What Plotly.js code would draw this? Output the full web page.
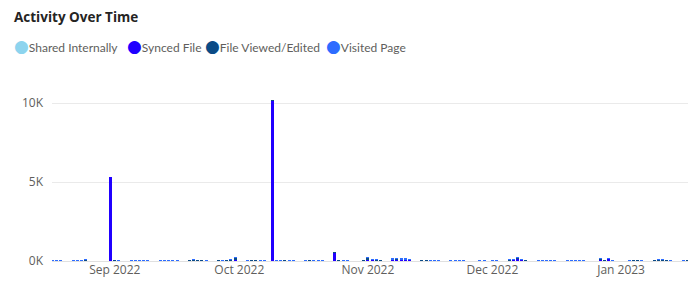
<!DOCTYPE html>
<html>
<head>
<meta charset="utf-8">
<script src="https://cdn.plot.ly/plotly-3.0.1.min.js"></script>
<style>html,body{margin:0;padding:0;background:#fff;}#chart{width:688px;height:287px;}</style>
</head>
<body>
<div id="chart"></div>
<script>
const dates = [
'2022-08-17','2022-08-18','2022-08-19',
'2022-08-22','2022-08-23','2022-08-24','2022-08-25',
'2022-08-31',
'2022-09-01','2022-09-02',
'2022-09-05','2022-09-06','2022-09-07','2022-09-08','2022-09-09',
'2022-09-12','2022-09-13','2022-09-14','2022-09-15','2022-09-16',
'2022-09-19','2022-09-20','2022-09-21','2022-09-22','2022-09-23',
'2022-09-26','2022-09-27','2022-09-28','2022-09-29','2022-09-30',
'2022-10-03','2022-10-04','2022-10-05','2022-10-06','2022-10-07',
'2022-10-09',
'2022-10-10','2022-10-11','2022-10-12','2022-10-13','2022-10-14',
'2022-10-17','2022-10-18','2022-10-19','2022-10-20','2022-10-21',
'2022-10-24','2022-10-25','2022-10-26','2022-10-27',
'2022-10-31',
'2022-11-01','2022-11-02','2022-11-03','2022-11-04',
'2022-11-07','2022-11-08','2022-11-09','2022-11-10','2022-11-11',
'2022-11-14','2022-11-15','2022-11-16','2022-11-17','2022-11-18',
'2022-11-21','2022-11-22','2022-11-23','2022-11-24',
'2022-11-28','2022-11-29',
'2022-12-01','2022-12-02',
'2022-12-05','2022-12-06','2022-12-07','2022-12-08','2022-12-09',
'2022-12-12','2022-12-13','2022-12-14','2022-12-15','2022-12-16',
'2022-12-19','2022-12-20','2022-12-21','2022-12-22','2022-12-23',
'2022-12-27','2022-12-28','2022-12-29','2022-12-30',
'2023-01-03','2023-01-04','2023-01-05','2023-01-06',
'2023-01-09','2023-01-10','2023-01-11','2023-01-12','2023-01-13',
'2023-01-16','2023-01-17'
];

const sharedInternally = [
12,8,10,
10,14,12,15,
8,
12,8,
6,10,12,8,5,
8,12,10,6,8,
12,15,14,12,10,
8,10,12,14,15,
10,12,12,8,6,
4,
8,10,12,8,6,
10,12,8,10,6,
12,10,8,6,
10,
15,14,12,10,
15,18,14,15,12,
10,12,10,8,6,
8,10,8,6,
6,8,
8,6,
10,12,15,12,8,
8,10,10,8,6,
8,10,8,6,6,
10,12,8,6,
8,10,12,8,
10,12,12,10,8,
8,10
];

const syncedFile = [
5,0,5,
0,5,0,10,
5280,
10,5,
0,5,0,5,0,
0,5,5,0,0,
5,10,5,5,0,
5,0,10,10,20,
5,10,5,5,0,
10150,
5,5,5,0,0,
5,5,0,5,0,
520,10,5,5,
10,
40,20,10,5,
30,40,30,30,20,
10,5,5,5,0,
5,5,0,0,
0,5,
5,0,
20,30,100,20,10,
5,5,5,5,0,
5,5,5,0,0,
30,10,120,5,
5,5,5,5,
5,5,10,5,5,
5,5
];

const fileViewedEdited = [
5,5,5,
8,10,8,50,
10,
10,8,
8,10,10,8,8,
8,10,10,8,8,
15,20,18,15,10,
20,15,20,30,160,
15,20,18,15,10,
5,
10,15,15,10,8,
15,15,10,15,8,
30,12,8,8,
25,
130,50,30,25,
50,60,40,50,40,
15,20,15,15,8,
12,15,12,8,
8,12,
12,8,
25,30,70,25,15,
15,15,15,15,8,
12,15,12,8,8,
80,25,15,8,
15,20,15,12,
20,25,25,20,15,
15,20
];

const visitedPage = [
30,25,30,
35,40,35,40,
15,
40,30,
35,45,45,40,30,
30,40,45,35,30,
50,55,50,45,40,
45,50,50,55,50,
45,50,50,40,30,
15,
40,50,50,45,35,
45,50,40,45,30,
15,45,35,30,
40,
70,60,55,45,
75,80,75,75,65,
50,55,50,45,35,
40,45,40,30,
30,40,
40,30,
55,65,75,55,45,
45,50,50,45,35,
40,45,40,35,30,
50,45,40,30,
40,50,50,45,
45,55,55,50,40,
40,45
];

const seriesNames = ['Shared Internally','Synced File','File Viewed/Edited','Visited Page'];
const seriesColors = ['#8dd4ee','#2000ff','#0b4b86','#2d6cff'];
const seriesValues = [sharedInternally, syncedFile, fileViewedEdited, visitedPage];
const legendLeftPx = [12, 125, 203, 324];

const yTickVals = [0, 5000, 10000];
const yTickText = ['0K','5K','10K'];
const xTickVals = ['2022-09-01','2022-10-01','2022-11-01','2022-12-01','2023-01-01'];
const xTickText = ['Sep 2022','Oct 2022','Nov 2022','Dec 2022','Jan 2023'];

const L = 52, PW = 636;
const traces = seriesNames.map((n, i) => ({
  type: 'bar', name: n, x: dates, y: seriesValues[i],
  marker: {color: seriesColors[i]}, showlegend: false,
  hoverinfo: 'x+y+name'
}));

const annotations = seriesNames.map((n, i) => ({
  text: '<span style="color:' + seriesColors[i] + ';font-size:17px;font-family:DejaVu Sans">●</span>' + n,
  xref: 'paper', yref: 'paper',
  x: (legendLeftPx[i] - L) / PW, xanchor: 'left',
  y: 1 + (75 - 46) / 186, yanchor: 'middle',
  showarrow: false,
  font: {size: 12, color: '#605e5c', family: 'Lato, "Noto Sans", sans-serif'}
}));

const layout = {
  width: 688, height: 287,
  margin: {l: L, r: 0, t: 75, b: 26},
  paper_bgcolor: '#ffffff', plot_bgcolor: '#ffffff',
  font: {family: '"Open Sans", "Noto Sans", sans-serif', size: 12, color: '#605e5c'},
  barmode: 'stack',
  bargap: 0.28,
  showlegend: false,
  annotations: annotations,
  title: {
    text: '<b>Activity Over Time</b>',
    font: {family: '"Open Sans", "Noto Sans", sans-serif', size: 13.5, color: '#252423'},
    x: 14/688, xanchor: 'left', xref: 'container',
    y: 1 - 17/287, yanchor: 'middle', yref: 'container'
  },
  xaxis: {
    type: 'date',
    range: ['2022-08-16 21:00', '2023-01-17 03:00'],
    tickvals: xTickVals, ticktext: xTickText,
    showgrid: false, showline: false, zeroline: false,
    ticks: '', tickfont: {size: 12, color: '#605e5c'}
  },
  yaxis: {
    range: [0, 11772],
    tickvals: yTickVals, ticktext: yTickText,
    showgrid: true, gridcolor: '#eaeaea', gridwidth: 1,
    zeroline: true, zerolinecolor: '#e0e0e0', zerolinewidth: 1,
    showline: false, ticks: '', ticklabelstandoff: 8,
    tickfont: {size: 12, color: '#605e5c'}
  }
};

Plotly.newPlot('chart', traces, layout, {displayModeBar: false, staticPlot: true});
</script>
</body>
</html>
